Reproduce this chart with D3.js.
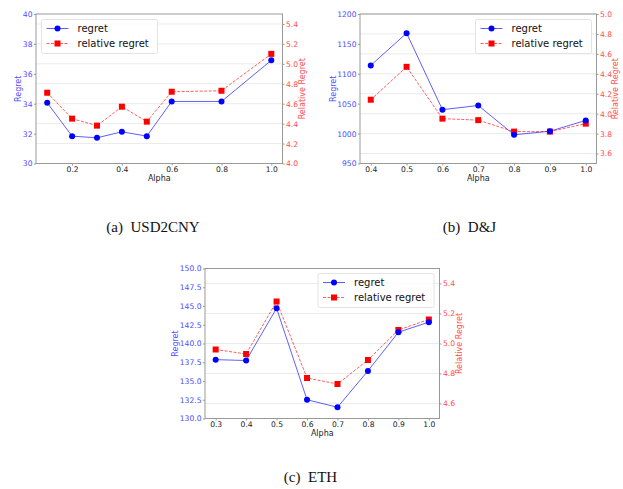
<!DOCTYPE html>
<html>
<head>
<meta charset="utf-8">
<script src="https://d3js.org/d3.v7.min.js"></script>
<style>
  body { margin: 0; background: #fff; }
  text { font-family: "DejaVu Sans", sans-serif; }
  .caption { font-family: "Liberation Serif", "DejaVu Serif", serif; font-size: 15px; fill: #111; }
</style>
</head>
<body>
<svg width="623" height="489"></svg>
<script>
  // (a) USD2CNY
  var alphaA = [0.1, 0.2, 0.3, 0.4, 0.5, 0.6, 0.8, 1.0];
  var regretA = [34.06, 31.83, 31.72, 32.12, 31.83, 34.15, 34.15, 36.9];
  var relRegretA = [4.71, 4.45, 4.38, 4.57, 4.42, 4.72, 4.73, 5.10];

  // (b) D&J
  var alphaB = [0.4, 0.5, 0.6, 0.7, 0.8, 0.9, 1.0];
  var regretB = [1114, 1168, 1040, 1047, 998, 1004, 1022];
  var relRegretB = [4.14, 4.47, 3.95, 3.935, 3.82, 3.82, 3.90];

  // (c) ETH
  var alphaC = [0.3, 0.4, 0.5, 0.6, 0.7, 0.8, 0.9, 1.0];
  var regretC = [137.85, 137.73, 144.7, 132.5, 131.5, 136.35, 141.5, 142.85];
  var relRegretC = [4.96, 4.93, 5.28, 4.77, 4.73, 4.89, 5.09, 5.16];

  var svg = d3.select("svg");
  var blue = "#0000ff", red = "#ff0000";
  var tickBlue = "#4d4dff", tickRed = "#ff4d4d", spine = "#999";

  function drawPanel(p) {
    var g = svg.append("g");
    var x = d3.scaleLinear().domain(p.xDomain).range([p.left, p.right]);
    var y = d3.scaleLinear().domain(p.yDomain).range([p.bottom, p.top]);
    var y2 = d3.scaleLinear().domain(p.y2Domain).range([p.bottom, p.top]);

    // grid from right axis ticks
    g.selectAll(".grid").data(p.y2Ticks).enter().append("line")
      .attr("x1", p.left).attr("x2", p.right)
      .attr("y1", function (d) { return y2(d); })
      .attr("y2", function (d) { return y2(d); })
      .attr("stroke", "#ebebeb").attr("stroke-width", 1);

    var ax = g.append("g").attr("transform", "translate(0," + p.bottom + ")")
      .call(d3.axisBottom(x).tickValues(p.xTicks).tickFormat(d3.format(".1f")).tickSize(2).tickPadding(1));
    var ay = g.append("g").attr("transform", "translate(" + p.left + ",0)")
      .call(d3.axisLeft(y).tickValues(p.yTicks).tickFormat(d3.format(p.yFormat)).tickSize(2).tickPadding(1.5));
    var ay2 = g.append("g").attr("transform", "translate(" + p.right + ",0)")
      .call(d3.axisRight(y2).tickValues(p.y2Ticks).tickFormat(d3.format(".1f")).tickSize(2).tickPadding(1.5));

    [ax, ay, ay2].forEach(function (a) {
      a.select(".domain").remove();
      a.selectAll(".tick line").attr("stroke", spine);
      a.selectAll("text").style("font-size", "7.6px").style("font-family", "DejaVu Sans");
    });
    ax.selectAll("text").attr("fill", "#222");
    ay.selectAll("text").attr("fill", tickBlue);
    ay2.selectAll("text").attr("fill", tickRed);

    g.append("rect").attr("x", p.left).attr("y", p.top)
      .attr("width", p.right - p.left).attr("height", p.bottom - p.top)
      .attr("fill", "none").attr("stroke", spine).attr("stroke-width", 1);

    // labels
    g.append("text").attr("x", (p.left + p.right) / 2).attr("y", p.bottom + 17.5)
      .attr("text-anchor", "middle").style("font-size", "8px").attr("fill", "#222").text("Alpha");
    g.append("text").attr("transform", "translate(" + p.yLabelX + "," + ((p.top + p.bottom) / 2) + ") rotate(-90)")
      .attr("text-anchor", "middle").attr("dy", "0.35em").style("font-size", "8px").attr("fill", tickBlue).text("Regret");
    g.append("text").attr("transform", "translate(" + p.y2LabelX + "," + ((p.top + p.bottom) / 2) + ") rotate(-90)")
      .attr("text-anchor", "middle").attr("dy", "0.35em").style("font-size", "8px").attr("fill", tickRed).text("Relative Regret");

    var ptsR = p.alpha.map(function (a, i) { return [a, p.regret[i]]; });
    var ptsRR = p.alpha.map(function (a, i) { return [a, p.rel[i]]; });

    g.append("path").datum(ptsR)
      .attr("d", d3.line().x(function (d) { return x(d[0]); }).y(function (d) { return y(d[1]); }))
      .attr("fill", "none").attr("stroke", blue).attr("stroke-opacity", 0.7).attr("stroke-width", 0.9);
    g.append("path").datum(ptsRR)
      .attr("d", d3.line().x(function (d) { return x(d[0]); }).y(function (d) { return y2(d[1]); }))
      .attr("fill", "none").attr("stroke", red).attr("stroke-opacity", 0.7).attr("stroke-width", 0.9)
      .attr("stroke-dasharray", "3,1.5");

    g.selectAll(".sq").data(ptsRR).enter().append("rect")
      .attr("x", function (d) { return x(d[0]) - 3; })
      .attr("y", function (d) { return y2(d[1]) - 3; })
      .attr("width", 6).attr("height", 6).attr("fill", red);
    g.selectAll(".dot").data(ptsR).enter().append("circle")
      .attr("cx", function (d) { return x(d[0]); })
      .attr("cy", function (d) { return y(d[1]); })
      .attr("r", 3).attr("fill", blue);

    // legend
    var lg = g.append("g").attr("transform", "translate(" + p.legend[0] + "," + p.legend[1] + ")");
    lg.append("rect").attr("width", 116).attr("height", 34).attr("rx", 2)
      .attr("fill", "#fff").attr("fill-opacity", 0.8).attr("stroke", "#e3e3e3");
    lg.append("line").attr("x1", 5).attr("x2", 27).attr("y1", 9).attr("y2", 9)
      .attr("stroke", blue).attr("stroke-opacity", 0.7).attr("stroke-width", 0.9);
    lg.append("circle").attr("cx", 16).attr("cy", 9).attr("r", 3).attr("fill", blue);
    lg.append("line").attr("x1", 5).attr("x2", 27).attr("y1", 24).attr("y2", 24)
      .attr("stroke", red).attr("stroke-opacity", 0.7).attr("stroke-width", 0.9).attr("stroke-dasharray", "3,1.5");
    lg.append("rect").attr("x", 13).attr("y", 21).attr("width", 6).attr("height", 6).attr("fill", red);
    lg.append("text").attr("x", 36).attr("y", 12.5).style("font-size", "10px").attr("fill", "#111").text("regret");
    lg.append("text").attr("x", 36).attr("y", 27.5).style("font-size", "10px").attr("fill", "#111").text("relative regret");

    svg.append("text").attr("class", "caption").attr("x", p.caption[0]).attr("y", p.caption[1])
      .attr("text-anchor", "middle").text(p.title);
  }

  drawPanel({
    alpha: alphaA, regret: regretA, rel: relRegretA,
    left: 36, right: 282.5, top: 14, bottom: 163.5, yLabelX: 18, y2LabelX: 302.5,
    xDomain: [0.055, 1.045], yDomain: [30, 40], y2Domain: [4.0, 5.5],
    xTicks: [0.2, 0.4, 0.6, 0.8, 1.0], yTicks: d3.range(30, 41, 2), yFormat: "d",
    y2Ticks: [4.0, 4.2, 4.4, 4.6, 4.8, 5.0, 5.2, 5.4],
    legend: [41.5, 19.5], caption: [153, 232], title: "(a)\u2002USD2CNY"
  });
  drawPanel({
    alpha: alphaB, regret: regretB, rel: relRegretB,
    left: 360, right: 596.5, top: 14, bottom: 163.5, yLabelX: 333, y2LabelX: 615.5,
    xDomain: [0.37, 1.03], yDomain: [950, 1200], y2Domain: [3.5, 5.0],
    xTicks: [0.4, 0.5, 0.6, 0.7, 0.8, 0.9, 1.0], yTicks: d3.range(950, 1201, 50), yFormat: "d",
    y2Ticks: [3.6, 3.8, 4.0, 4.2, 4.4, 4.6, 4.8, 5.0],
    legend: [475.5, 19.5], caption: [469.5, 232], title: "(b)\u2002D&J"
  });
  drawPanel({
    alpha: alphaC, regret: regretC, rel: relRegretC,
    left: 205, right: 439.5, top: 268.5, bottom: 418.5, yLabelX: 175, y2LabelX: 459.5,
    xDomain: [0.265, 1.035], yDomain: [130, 150], y2Domain: [4.5, 5.5],
    xTicks: [0.3, 0.4, 0.5, 0.6, 0.7, 0.8, 0.9, 1.0], yTicks: d3.range(130, 150.1, 2.5), yFormat: ".1f",
    y2Ticks: [4.6, 4.8, 5.0, 5.2, 5.4],
    legend: [318, 273.5], caption: [310.5, 482], title: "(c)\u2002ETH"
  });
</script>
</body>
</html>
